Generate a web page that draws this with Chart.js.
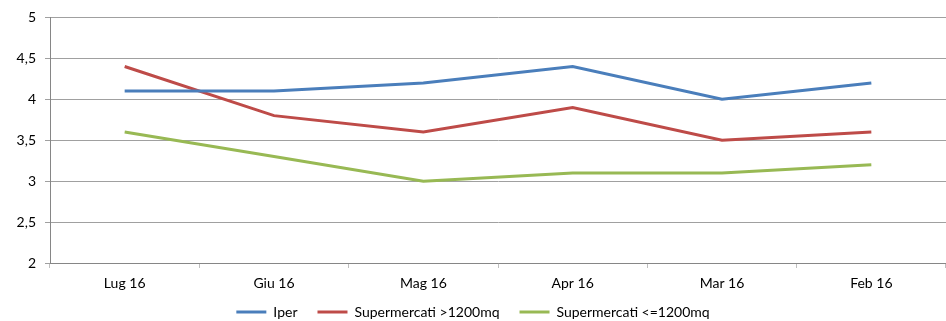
<!DOCTYPE html>
<html>
<head>
<meta charset="utf-8">
<script src="https://cdn.jsdelivr.net/npm/chart.js@4/dist/chart.umd.min.js"></script>
<style>
  html, body { margin: 0; padding: 0; background: #fff; }
  #wrap { width: 946px; height: 321px; }
</style>
</head>
<body>
<div id="wrap"><canvas id="chart" width="946" height="321"></canvas></div>
<script>
const months = ['Lug 16', 'Giu 16', 'Mag 16', 'Apr 16', 'Mar 16', 'Feb 16'];
const iper = [4.1, 4.1, 4.2, 4.4, 4.0, 4.2];
const superGrandi = [4.4, 3.8, 3.6, 3.9, 3.5, 3.6];
const superPiccoli = [3.6, 3.3, 3.0, 3.1, 3.1, 3.2];

Chart.defaults.font.family = 'Lato, "Liberation Sans", sans-serif';
Chart.defaults.font.size = 14;
Chart.defaults.color = '#000';

function serie(label, data, color) {
    return {
        label: label,
        data: data,
        borderColor: color,
        backgroundColor: color,
        borderWidth: 3,
        pointRadius: 0,
        tension: 0
    };
}

// legend: wide gaps between items but a short box near the bottom edge
const legendHeight = {
    id: 'legendHeight',
    afterInit(chart) {
        const lg = chart.legend;
        const fit = lg.fit;
        lg.fit = function () {
            fit.call(this);
            this.height = 28;
        };
    },
    afterLayout(chart) {
        chart.legend.top -= 8;
    }
};

const config = {
    type: 'line',
    data: {
        labels: months,
        datasets: [
            serie('Iper', iper, '#4a7ebb'),
            serie('Supermercati >1200mq', superGrandi, '#be4b48'),
            serie('Supermercati <=1200mq', superPiccoli, '#98b954')
        ]
    },
    options: {
        responsive: false,
        animation: false,
        layout: { padding: { top: 8, right: 0, bottom: 0, left: 0 } },
        scales: {
            x: {
                offset: true,
                afterFit: s => { s.height = 30; },
                grid: { display: true, drawOnChartArea: false, offset: true, color: '#bfbfbf', tickLength: 5 },
                border: { color: '#868686' },
                ticks: { padding: 7 }
            },
            y: {
                min: 2,
                max: 5,
                afterFit: s => { s.width = 50; },
                grid: { color: '#a0a0a0', tickLength: 5 },
                border: { color: '#868686' },
                ticks: {
                    stepSize: 0.5,
                    padding: 9,
                    callback: v => String(v).replace('.', ',')
                }
            }
        },
        plugins: {
            legend: {
                position: 'bottom',
                labels: {
                    boxWidth: 30,
                    boxHeight: 3,
                    padding: 20,
                    generateLabels: chart =>
                        Chart.defaults.plugins.legend.labels.generateLabels(chart)
                            .map(l => Object.assign(l, { lineWidth: 0 }))
                }
            },
            tooltip: { enabled: false }
        }
    },
    plugins: [legendHeight]
};

new Chart(document.getElementById('chart'), config);
</script>
</body>
</html>
